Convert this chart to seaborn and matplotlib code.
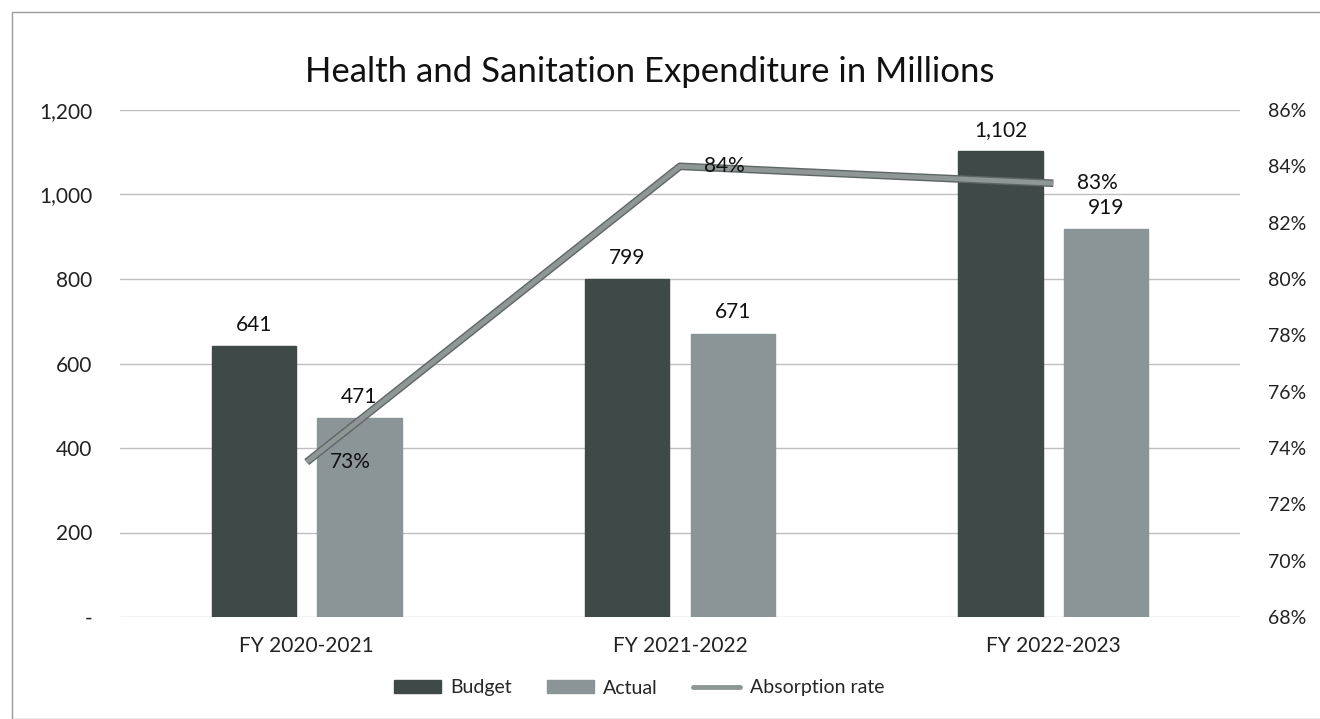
import matplotlib
matplotlib.use("Agg")
import matplotlib.pyplot as plt
import matplotlib.ticker as mticker
from matplotlib.lines import Line2D
from matplotlib.patches import Patch, Rectangle
import seaborn as sns
import pandas as pd

# Data
years = ["FY 2020-2021", "FY 2021-2022", "FY 2022-2023"]
budget = [641, 799, 1102]
actual = [471, 671, 919]
absorption = [0.735, 0.840, 0.834]
absorption_labels = ["73%", "84%", "83%"]

budget_color = "#3e4948"
actual_color = "#8b9496"
line_color = "#8f9696"

sns.set_theme(style="white")
plt.rcParams["font.family"] = ["Lato", "DejaVu Sans"]

df = pd.DataFrame({"year": years * 2,
                   "value": budget + actual,
                   "series": ["Budget"] * 3 + ["Actual"] * 3})

fig = plt.figure(figsize=(13.2, 7.19), dpi=100)
ax = fig.add_axes([120 / 1320, 1 - 617 / 719, 1120 / 1320, 507 / 719])

sns.barplot(data=df, x="year", y="value", hue="series", ax=ax,
            palette=[budget_color, actual_color], width=0.565, gap=0.2,
            legend=False, saturation=1)
for p in ax.patches:
    p.set_edgecolor(p.get_facecolor())

ax.set_xlim(-0.5, 2.5)
ax.set_ylim(0, 1200)
ax.set_yticks(range(0, 1201, 200))
ax.yaxis.set_major_formatter(mticker.FuncFormatter(
    lambda v, _: "-" if v == 0 else f"{int(v):,}"))
ax.yaxis.grid(True, color="#bfbfbf", linewidth=1)
ax.set_axisbelow(True)
ax.set_xlabel("")
ax.set_ylabel("")
for s in ax.spines.values():
    s.set_visible(False)
ax.tick_params(axis="y", labelsize=15, pad=20, length=0, colors="#222222")
ax.tick_params(axis="x", labelsize=15, pad=14, length=0, colors="#222222")

# Bar value labels
for container in ax.containers:
    ax.bar_label(container, labels=[f"{int(v):,}" for v in container.datavalues],
                 padding=8, fontsize=15, color="#111111")

# Absorption rate on the secondary axis
ax2 = ax.twinx()
ax2.set_ylim(0.68, 0.86)
ax2.set_yticks([0.68 + 0.02 * i for i in range(10)])
ax2.yaxis.set_major_formatter(mticker.PercentFormatter(1.0, decimals=0))
ax2.tick_params(axis="y", labelsize=14, pad=20, length=0, colors="#222222")
for s in ax2.spines.values():
    s.set_visible(False)
ax2.grid(False)
xs = list(range(len(years)))
ax2.plot(xs, absorption, color="#5f6666", linewidth=5.5, solid_capstyle="butt", zorder=3)
ax2.plot(xs, absorption, color=line_color, linewidth=3.5, solid_capstyle="butt", zorder=4)
for x, y, lab in zip(xs, absorption, absorption_labels):
    ax2.annotate(lab, (x, y), xytext=(17, 0), textcoords="offset points",
                 va="center", ha="left", fontsize=15, color="#111111", zorder=5)

fig.text(0.492, 1 - 72 / 719, "Health and Sanitation Expenditure in Millions",
         ha="center", va="center", fontsize=25, color="#111111")

handles = [Patch(facecolor=budget_color, edgecolor=budget_color),
           Patch(facecolor=actual_color, edgecolor=actual_color),
           Line2D([0], [0], color=line_color, linewidth=3.5)]
fig.legend(handles, ["Budget", "Actual", "Absorption rate"],
           loc="center", bbox_to_anchor=(639 / 1320, 1 - 688 / 719), ncol=3,
           frameon=False, fontsize=14, handlelength=2.4, handleheight=0.6,
           columnspacing=1.8, handletextpad=0.5)

# Outer frame
fig.patches.append(Rectangle((12 / 1320, 0), 1.2, 1 - 12 / 719,
                             transform=fig.transFigure, fill=False,
                             edgecolor="#9a9a9a", linewidth=1))

fig.savefig("out.png", dpi=100)
